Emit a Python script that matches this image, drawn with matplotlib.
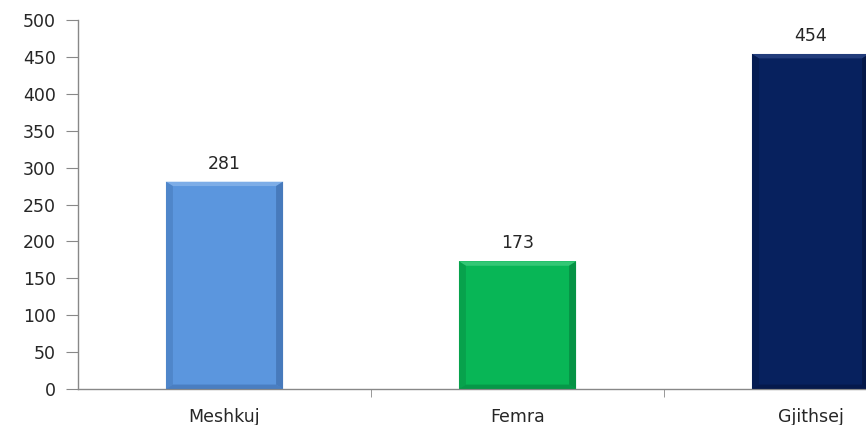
import numpy as np
import matplotlib.pyplot as plt
from matplotlib.patches import Polygon

# Donnees
categories = ["Meshkuj", "Femra", "Gjithsej"]
values = [281, 173, 454]
colors = ["#5B96DE", "#08B656", "#07215E"]
edge_dark = ["#3F6FAE", "#06853F", "#041540"]
edge_light = ["#86B4EA", "#3FCC7E", "#2A4483"]

fig = plt.figure(figsize=(8.66, 4.25), dpi=100)
# axe qui deborde a droite (graphique coupe dans l'original)
ax = fig.add_axes([78 / 866, 36 / 425, 879 / 866, 369 / 425])

x = np.arange(len(categories))
width = 0.4
bars = ax.bar(x, values, width=width, color=colors, zorder=2)

# effet biseau
for b, cd, cl in zip(bars, edge_dark, edge_light):
    x0, y0 = b.get_x(), b.get_y()
    w, h = b.get_width(), b.get_height()
    dx = w * 0.06
    dy = 500 * 0.012
    # haut clair
    ax.add_patch(Polygon([[x0, y0 + h], [x0 + w, y0 + h], [x0 + w - dx, y0 + h - dy], [x0 + dx, y0 + h - dy]],
                         closed=True, color=cl, lw=0, zorder=3, alpha=0.8))
    # cotes et bas sombres
    ax.add_patch(Polygon([[x0 + w, y0 + h], [x0 + w, y0], [x0 + w - dx, y0 + dy], [x0 + w - dx, y0 + h - dy]],
                         closed=True, color=cd, lw=0, zorder=3, alpha=0.7))
    ax.add_patch(Polygon([[x0, y0 + h], [x0, y0], [x0 + dx, y0 + dy], [x0 + dx, y0 + h - dy]],
                         closed=True, color=cd, lw=0, zorder=3, alpha=0.4))
    ax.add_patch(Polygon([[x0, y0], [x0 + w, y0], [x0 + w - dx, y0 + dy], [x0 + dx, y0 + dy]],
                         closed=True, color=cd, lw=0, zorder=3, alpha=0.6))
    ax.text(b.get_x() + w / 2, h + 12, str(int(h)), ha="center", va="bottom",
            fontsize=12.5, color="#262626")

ax.set_xlim(-0.5, 2.5)
ax.set_ylim(0, 500)
ax.set_yticks(np.arange(0, 501, 50))
ax.set_xticks(x)
ax.set_xticklabels(categories)
ax.set_xticks([0.5, 1.5], minor=True)

for s in ["top", "right"]:
    ax.spines[s].set_visible(False)
for s in ["left", "bottom"]:
    ax.spines[s].set_color("#888888")
    ax.spines[s].set_linewidth(1)

ax.tick_params(axis="y", length=9, color="#888888", labelsize=12.5, labelcolor="#262626", pad=7)
ax.tick_params(axis="x", which="major", length=0, labelsize=12.5, labelcolor="#262626", pad=14)
ax.tick_params(axis="x", which="minor", length=6, color="#888888")

fig.savefig("out.png", dpi=100)
